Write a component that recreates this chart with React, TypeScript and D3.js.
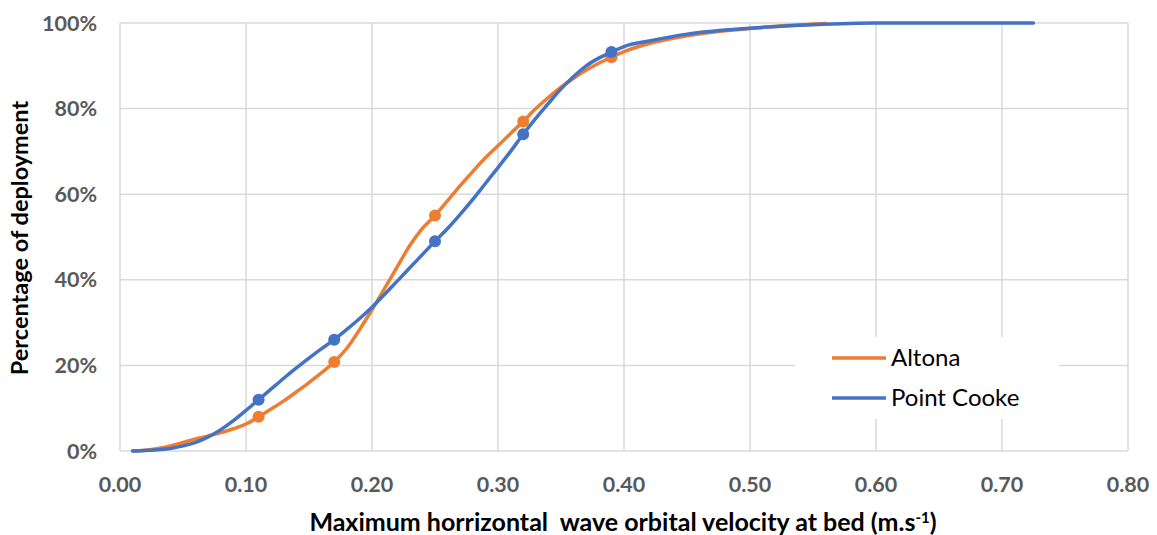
import React from "react";
import * as d3 from "d3";

const xTicks = [0, 0.1, 0.2, 0.3, 0.4, 0.5, 0.6, 0.7, 0.8];
const yTicks = [0, 0.2, 0.4, 0.6, 0.8, 1.0];

const altonaX = [0.01, 0.02, 0.03, 0.04, 0.05, 0.06, 0.07, 0.08, 0.09, 0.10, 0.11, 0.12, 0.13, 0.14, 0.15, 0.16, 0.17, 0.18, 0.19, 0.20, 0.21, 0.22, 0.23, 0.24, 0.25, 0.26, 0.27, 0.28, 0.29, 0.30, 0.31, 0.32, 0.33, 0.34, 0.35, 0.36, 0.37, 0.38, 0.39, 0.40, 0.42, 0.45, 0.48, 0.50, 0.53, 0.56];
const altonaY = [0, 0.002, 0.006, 0.012, 0.02, 0.028, 0.035, 0.043, 0.052, 0.063, 0.08, 0.098, 0.117, 0.138, 0.16, 0.183, 0.208, 0.24, 0.283, 0.33, 0.38, 0.43, 0.48, 0.52, 0.55, 0.585, 0.62, 0.653, 0.685, 0.713, 0.742, 0.77, 0.8, 0.826, 0.85, 0.871, 0.89, 0.906, 0.92, 0.933, 0.952, 0.97, 0.982, 0.987, 0.994, 0.999];

const cookeX = [0.01, 0.02, 0.03, 0.04, 0.05, 0.06, 0.07, 0.08, 0.09, 0.10, 0.11, 0.12, 0.13, 0.14, 0.15, 0.16, 0.17, 0.18, 0.19, 0.20, 0.21, 0.22, 0.23, 0.24, 0.25, 0.26, 0.27, 0.28, 0.29, 0.30, 0.31, 0.32, 0.33, 0.34, 0.35, 0.36, 0.37, 0.38, 0.39, 0.40, 0.42, 0.45, 0.50, 0.55, 0.60, 0.65, 0.725];
const cookeY = [0, 0.001, 0.003, 0.006, 0.012, 0.02, 0.033, 0.05, 0.071, 0.095, 0.12, 0.145, 0.17, 0.194, 0.217, 0.239, 0.26, 0.284, 0.309, 0.336, 0.366, 0.397, 0.428, 0.459, 0.49, 0.52, 0.553, 0.588, 0.625, 0.662, 0.7, 0.74, 0.777, 0.812, 0.846, 0.875, 0.9, 0.918, 0.932, 0.945, 0.958, 0.974, 0.988, 0.996, 1.0, 1.0, 1.0];

const markerX = [0.11, 0.17, 0.25, 0.32, 0.39];
const altonaMarkers = [0.08, 0.208, 0.55, 0.77, 0.92];
const cookeMarkers = [0.12, 0.26, 0.49, 0.74, 0.932];

const series = [
  { name: "Altona", color: "#ED7D31", xs: altonaX, ys: altonaY, my: altonaMarkers },
  { name: "Point Cooke", color: "#4472C4", xs: cookeX, ys: cookeY, my: cookeMarkers },
];

const W = 1157, H = 535;
const left = 120, right = 1128, top = 23, bottom = 451;
const FONT = "Lato, 'Open Sans', sans-serif";

export default function App() {
  const x = d3.scaleLinear().domain([0, 0.8]).range([left, right]);
  const y = d3.scaleLinear().domain([0, 1]).range([bottom, top]);
  const line = d3.line<[number, number]>().x(d => x(d[0])).y(d => y(d[1])).curve(d3.curveMonotoneX);

  return (
    <div style={{ position: "absolute", left: 0, top: 0 }}>
      <svg width={W} height={H} style={{ display: "block", background: "#fff" }}>
        {xTicks.map(t => (
          <line key={"gx" + t} x1={x(t)} x2={x(t)} y1={top} y2={bottom} stroke="#D9D9D9" strokeWidth={1.5} />
        ))}
        {yTicks.map(t => (
          <line key={"gy" + t} x1={left} x2={right} y1={y(t)} y2={y(t)} stroke="#D9D9D9" strokeWidth={1.5} />
        ))}
        {yTicks.map(t => (
          <text key={"ty" + t} x={97} y={y(t)} dy="0.35em" textAnchor="end" fontFamily={FONT} fontWeight="bold" fontSize={21.5} fill="#595959">
            {d3.format(".0%")(t)}
          </text>
        ))}
        {xTicks.map(t => (
          <text key={"tx" + t} x={x(t)} y={484} dy="0.35em" textAnchor="middle" fontFamily={FONT} fontWeight="bold" fontSize={21.5} fill="#595959">
            {d3.format(".2f")(t)}
          </text>
        ))}
        <text x={623} y={522} dy="0.35em" textAnchor="middle" fontFamily={FONT} fontWeight="bold" fontSize={25} fill="#000" style={{ whiteSpace: "pre" }}>
          {"Maximum horrizontal  wave orbital velocity at bed (m.s"}
          <tspan dy="-8" fontSize={15}>-1</tspan>
          <tspan dy="8">)</tspan>
        </text>
        <text transform={`translate(20,238) rotate(-90)`} dy="0.35em" textAnchor="middle" fontFamily={FONT} fontWeight="bold" fontSize={23.5} fill="#000">
          Percentage of deployment
        </text>
        {series.map(s => (
          <g key={s.name}>
            <path d={line(s.xs.map((v, i) => [v, s.ys[i]] as [number, number])) || ""} fill="none" stroke={s.color} strokeWidth={3.5} strokeLinejoin="round" strokeLinecap="round" />
            {markerX.map((mx, i) => (
              <circle key={i} cx={x(mx)} cy={y(s.my[i])} r={6} fill={s.color} />
            ))}
          </g>
        ))}
        <rect x={795} y={337} width={264} height={82} fill="#fff" />
        {series.map((s, i) => (
          <g key={"lg" + s.name}>
            <line x1={832} x2={886} y1={358 + i * 40} y2={358 + i * 40} stroke={s.color} strokeWidth={3.5} />
            <text x={891} y={358 + i * 40} dy="0.35em" fontFamily={FONT} fontSize={24} fill="#000">{s.name}</text>
          </g>
        ))}
      </svg>
    </div>
  );
}
